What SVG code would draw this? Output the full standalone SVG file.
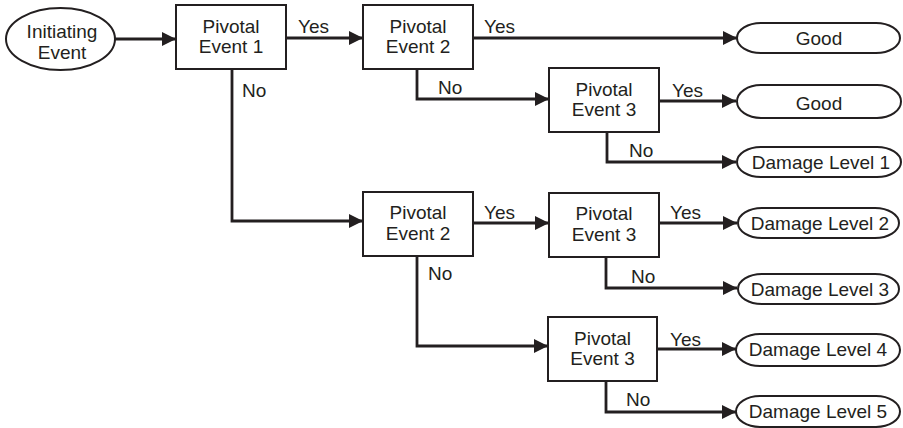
<svg xmlns="http://www.w3.org/2000/svg" width="903" height="428" viewBox="0 0 903 428">
  <style>
    .box { fill: #ffffff; stroke: #231f20; stroke-width: 2; }
    .end { fill: #ffffff; stroke: #231f20; stroke-width: 2; }
    .lbl { font-family: "Liberation Sans", Arial, sans-serif; font-size: 19px; fill: #231f20; }
    .mid { text-anchor: middle; }
    .wire { fill: none; stroke: #231f20; stroke-width: 2.8; }
  </style>
  <defs>
    <marker id="arrow" markerUnits="userSpaceOnUse" markerWidth="15" markerHeight="15" refX="14" refY="7.5" orient="auto">
      <path d="M0,0.5 L14,7.5 L0,14.5 Z" fill="#231f20"/>
    </marker>
  </defs>
  <rect width="903" height="428" fill="#ffffff"/>

  <!-- connectors -->
  <g id="connectors">
    <path class="wire" d="M115,39 H176" marker-end="url(#arrow)"/>
    <path class="wire" d="M286,38 H363" marker-end="url(#arrow)"/>
    <path class="wire" d="M473,38 H737" marker-end="url(#arrow)"/>
    <path class="wire" d="M417,69 V99 H549" marker-end="url(#arrow)"/>
    <path class="wire" d="M659,101 H736" marker-end="url(#arrow)"/>
    <path class="wire" d="M607,132 V162 H736" marker-end="url(#arrow)"/>
    <path class="wire" d="M232,69 V221 H363" marker-end="url(#arrow)"/>
    <path class="wire" d="M473,223 H549" marker-end="url(#arrow)"/>
    <path class="wire" d="M659,223 H737" marker-end="url(#arrow)"/>
    <path class="wire" d="M606,257 V288 H737" marker-end="url(#arrow)"/>
    <path class="wire" d="M417,256 V346 H548" marker-end="url(#arrow)"/>
    <path class="wire" d="M657,349 H736" marker-end="url(#arrow)"/>
    <path class="wire" d="M606,381 V412 H736" marker-end="url(#arrow)"/>

    <text class="lbl" x="298" y="33">Yes</text>
    <text class="lbl" x="484" y="33">Yes</text>
    <text class="lbl" x="242" y="97">No</text>
    <text class="lbl" x="438" y="94">No</text>
    <text class="lbl" x="672" y="97">Yes</text>
    <text class="lbl" x="629" y="157">No</text>
    <text class="lbl" x="484" y="219">Yes</text>
    <text class="lbl" x="670" y="219">Yes</text>
    <text class="lbl" x="428" y="280">No</text>
    <text class="lbl" x="631" y="283">No</text>
    <text class="lbl" x="670" y="346">Yes</text>
    <text class="lbl" x="626" y="406">No</text>
  </g>

  <g id="initiating-event">
    <ellipse class="end" cx="60.5" cy="39" rx="54.5" ry="31"/>
    <text class="lbl mid" x="62" y="38">Initiating</text>
    <text class="lbl mid" x="62" y="59">Event</text>
  </g>

  <g id="pivotal-1">
    <rect class="box" x="176" y="5" width="110" height="64"/>
    <text class="lbl mid" x="231" y="33">Pivotal</text>
    <text class="lbl mid" x="231" y="53">Event 1</text>
  </g>

  <g id="pivotal-2a">
    <rect class="box" x="363" y="5" width="110" height="64"/>
    <text class="lbl mid" x="418" y="33">Pivotal</text>
    <text class="lbl mid" x="418" y="53">Event 2</text>
  </g>

  <g id="pivotal-3a">
    <rect class="box" x="549" y="68" width="110" height="64"/>
    <text class="lbl mid" x="604" y="96">Pivotal</text>
    <text class="lbl mid" x="604" y="116">Event 3</text>
  </g>

  <g id="pivotal-2b">
    <rect class="box" x="363" y="192" width="110" height="64"/>
    <text class="lbl mid" x="418" y="219">Pivotal</text>
    <text class="lbl mid" x="418" y="240">Event 2</text>
  </g>

  <g id="pivotal-3b">
    <rect class="box" x="549" y="193" width="110" height="64"/>
    <text class="lbl mid" x="604" y="220">Pivotal</text>
    <text class="lbl mid" x="604" y="241">Event 3</text>
  </g>

  <g id="pivotal-3c">
    <rect class="box" x="548" y="317" width="109" height="64"/>
    <text class="lbl mid" x="602.5" y="345">Pivotal</text>
    <text class="lbl mid" x="602.5" y="365">Event 3</text>
  </g>

  <g id="outcome-good-1">
    <rect class="end" x="737" y="23" width="163" height="30" rx="24" ry="15"/>
    <text class="lbl mid" x="819" y="45">Good</text>
  </g>

  <g id="outcome-good-2">
    <rect class="end" x="737" y="85" width="164" height="33" rx="24" ry="16.5"/>
    <text class="lbl mid" x="819" y="110">Good</text>
  </g>

  <g id="outcome-damage-1">
    <rect class="end" x="737" y="147" width="164" height="30" rx="24" ry="15"/>
    <text class="lbl mid" x="821" y="169">Damage Level 1</text>
  </g>

  <g id="outcome-damage-2">
    <rect class="end" x="738" y="208" width="161" height="30" rx="24" ry="15"/>
    <text class="lbl mid" x="820" y="230">Damage Level 2</text>
  </g>

  <g id="outcome-damage-3">
    <rect class="end" x="738" y="274" width="161" height="30" rx="24" ry="15"/>
    <text class="lbl mid" x="820" y="296">Damage Level 3</text>
  </g>

  <g id="outcome-damage-4">
    <rect class="end" x="736" y="334" width="164" height="32" rx="24" ry="16"/>
    <text class="lbl mid" x="818" y="356">Damage Level 4</text>
  </g>

  <g id="outcome-damage-5">
    <rect class="end" x="736" y="396" width="164" height="31" rx="24" ry="15.5"/>
    <text class="lbl mid" x="818" y="418">Damage Level 5</text>
  </g>
</svg>
